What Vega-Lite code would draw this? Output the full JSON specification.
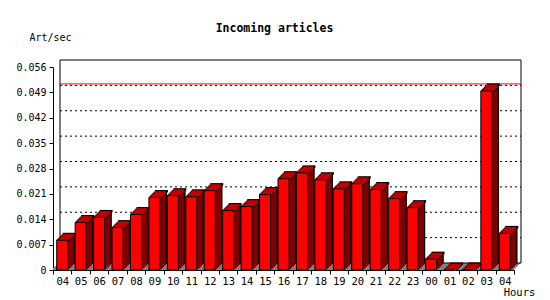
{
  "$schema": "https://vega.github.io/schema/vega-lite/v6.json",
  "autosize": {"type": "none"},
  "width": 461,
  "height": 203,
  "padding": {"left": 53, "top": 67, "right": 36, "bottom": 30},
  "background": "white",
  "title": {"text": "Incoming articles", "font": "DejaVu Sans Mono", "fontSize": 11.5, "fontWeight": "bold", "color": "black", "anchor": "middle", "dx": -9, "dy": 6},
  "config": {"view": {"stroke": null}, "axis": {"labelOverlap": false}},
  "data": {"values": [
    {"slot": "04a", "v": 0.0082}, {"slot": "05", "v": 0.0131}, {"slot": "06", "v": 0.0145},
    {"slot": "07", "v": 0.0117}, {"slot": "08", "v": 0.0153}, {"slot": "09", "v": 0.0200},
    {"slot": "10", "v": 0.0205}, {"slot": "11", "v": 0.0202}, {"slot": "12", "v": 0.0219},
    {"slot": "13", "v": 0.0164}, {"slot": "14", "v": 0.0175}, {"slot": "15", "v": 0.0208},
    {"slot": "16", "v": 0.0252}, {"slot": "17", "v": 0.0268}, {"slot": "18", "v": 0.0249},
    {"slot": "19", "v": 0.0224}, {"slot": "20", "v": 0.0238}, {"slot": "21", "v": 0.0222},
    {"slot": "22", "v": 0.0197}, {"slot": "23", "v": 0.0172}, {"slot": "00", "v": 0.0030},
    {"slot": "01", "v": 0}, {"slot": "02", "v": 0}, {"slot": "03", "v": 0.0494},
    {"slot": "04b", "v": 0.0101}
  ]},
  "layer": [
    {
      "data": {"values": [{}]},
      "encoding": {
        "x": {"value": 0}, "x2": {"value": "width"},
        "y": {"datum": 0, "type": "quantitative"},
        "y2": {"datum": 0}
      },
      "layer": [
        {"mark": {"type": "rect", "color": "#808080", "xOffset": 0, "x2Offset": 0, "yOffset": 0, "y2Offset": -2}},
        {"mark": {"type": "rect", "color": "#808080", "xOffset": 1, "x2Offset": 1, "yOffset": -1, "y2Offset": -3}},
        {"mark": {"type": "rect", "color": "#808080", "xOffset": 2, "x2Offset": 2, "yOffset": -2, "y2Offset": -4}},
        {"mark": {"type": "rect", "color": "#808080", "xOffset": 3, "x2Offset": 3, "yOffset": -3, "y2Offset": -5}},
        {"mark": {"type": "rect", "color": "#808080", "xOffset": 4, "x2Offset": 4, "yOffset": -4, "y2Offset": -6}},
        {"mark": {"type": "rect", "color": "#808080", "xOffset": 5, "x2Offset": 5, "yOffset": -5, "y2Offset": -7}},
        {"mark": {"type": "rect", "color": "#808080", "xOffset": 6, "x2Offset": 6, "yOffset": -6, "y2Offset": -7}},
        {"mark": {"type": "rect", "fill": "white", "fillOpacity": 0, "stroke": "black", "strokeWidth": 1,
                  "xOffset": 7, "x2Offset": 7, "yOffset": -7, "y2Offset": -7},
         "encoding": {"y": {"datum": 0.056, "type": "quantitative"}, "y2": {"datum": 0}}}
      ]
    },
    {
      "data": {"values": [{"g": 0.007}, {"g": 0.014}, {"g": 0.021}, {"g": 0.028}, {"g": 0.035}, {"g": 0.042}, {"g": 0.049}]},
      "mark": {"type": "rule", "color": "black", "strokeWidth": 1, "strokeDash": [2, 3], "xOffset": 7, "x2Offset": 7, "yOffset": -7},
      "encoding": {"x": {"value": 0}, "x2": {"value": "width"}, "y": {"field": "g", "type": "quantitative"}}
    },
    {
      "mark": {"type": "rule", "color": "#FF0000", "strokeWidth": 1, "xOffset": 7, "x2Offset": 7, "yOffset": -7},
      "encoding": {"x": {"value": 0}, "x2": {"value": "width"}, "y": {"aggregate": "max", "field": "v", "type": "quantitative"}}
    },
    {
      "encoding": {
        "x": {"field": "slot", "type": "nominal", "sort": null,
              "scale": {"paddingInner": 0, "paddingOuter": 0},
              "axis": {"labelExpr": "substring(datum.label, 0, 2)", "labelAngle": 0, "tickBand": "extent",
                       "domainColor": "black", "tickColor": "black", "tickSize": 4, "labelPadding": 2,
                       "labelColor": "black", "labelFont": "DejaVu Sans Mono", "labelFontSize": 10.5,
                       "title": "Hours", "titleX": 466, "titleY": 22, "titleAlign": "center", "titleBaseline": "middle",
                       "titleFont": "DejaVu Sans Mono", "titleFontSize": 10.5, "titleFontWeight": "normal", "titleColor": "black"}},
        "y": {"field": "v", "type": "quantitative", "scale": {"domain": [0, 0.056], "nice": false},
              "axis": {"values": [0, 0.007, 0.014, 0.021, 0.028, 0.035, 0.042, 0.049, 0.056],
                       "tickCount": 20,
                       "labelExpr": "datum.value == 0 ? '0' : format(datum.value, '.3f')",
                       "labelOverlap": false,
                       "grid": false, "domainColor": "black", "tickColor": "black", "tickSize": 4,
                       "labelPadding": 3, "labelColor": "black", "labelFont": "DejaVu Sans Mono", "labelFontSize": 10,
                       "title": "Art/sec", "titleAngle": 0, "titleX": -3, "titleY": -30, "titleAlign": "center",
                       "titleBaseline": "middle", "titleFont": "DejaVu Sans Mono", "titleFontSize": 10,
                       "titleFontWeight": "normal", "titleColor": "black"}}
      },
      "layer": [
        {"mark": {"type": "bar", "width": 2, "color": "#800000", "xOffset": 6.5, "yOffset": -1, "y2Offset": -1}, "encoding": {"y2": {"datum": 0}}},
        {"mark": {"type": "bar", "width": 2, "color": "#800000", "xOffset": 7.5, "yOffset": -2, "y2Offset": -2}, "encoding": {"y2": {"datum": 0}}},
        {"mark": {"type": "bar", "width": 2, "color": "#800000", "xOffset": 8.5, "yOffset": -3, "y2Offset": -3}, "encoding": {"y2": {"datum": 0}}},
        {"mark": {"type": "bar", "width": 2, "color": "#800000", "xOffset": 9.5, "yOffset": -4, "y2Offset": -4}, "encoding": {"y2": {"datum": 0}}},
        {"mark": {"type": "bar", "width": 2, "color": "#800000", "xOffset": 10.5, "yOffset": -5, "y2Offset": -5}, "encoding": {"y2": {"datum": 0}}},
        {"mark": {"type": "bar", "width": 2, "color": "#800000", "xOffset": 11.5, "yOffset": -6, "y2Offset": -6}, "encoding": {"y2": {"datum": 0}}},
        {"mark": {"type": "bar", "width": 1.2, "color": "black", "xOffset": 12, "yOffset": -7, "y2Offset": -7}, "encoding": {"y2": {"datum": 0}}},
        {"mark": {"type": "bar", "width": 13, "color": "black", "xOffset": 1, "yOffset": -1, "y2Offset": 1}, "encoding": {"y2": {"field": "v"}}},
        {"mark": {"type": "bar", "width": 13, "color": "black", "xOffset": 2, "yOffset": -2, "y2Offset": 0}, "encoding": {"y2": {"field": "v"}}},
        {"mark": {"type": "bar", "width": 13, "color": "black", "xOffset": 3, "yOffset": -3, "y2Offset": -1}, "encoding": {"y2": {"field": "v"}}},
        {"mark": {"type": "bar", "width": 13, "color": "black", "xOffset": 4, "yOffset": -4, "y2Offset": -2}, "encoding": {"y2": {"field": "v"}}},
        {"mark": {"type": "bar", "width": 13, "color": "black", "xOffset": 5, "yOffset": -5, "y2Offset": -3}, "encoding": {"y2": {"field": "v"}}},
        {"mark": {"type": "bar", "width": 13, "color": "black", "xOffset": 6, "yOffset": -6, "y2Offset": -4}, "encoding": {"y2": {"field": "v"}}},
        {"mark": {"type": "bar", "width": 13, "color": "black", "xOffset": 7, "yOffset": -7.5, "y2Offset": -5}, "encoding": {"y2": {"field": "v"}}},
        {"mark": {"type": "bar", "width": 11, "color": "#C00000", "xOffset": 1, "yOffset": -1, "y2Offset": 1}, "encoding": {"y2": {"field": "v"}}},
        {"mark": {"type": "bar", "width": 11, "color": "#C00000", "xOffset": 2, "yOffset": -2, "y2Offset": 0}, "encoding": {"y2": {"field": "v"}}},
        {"mark": {"type": "bar", "width": 11, "color": "#C00000", "xOffset": 3, "yOffset": -3, "y2Offset": -1}, "encoding": {"y2": {"field": "v"}}},
        {"mark": {"type": "bar", "width": 11, "color": "#C00000", "xOffset": 4, "yOffset": -4, "y2Offset": -2}, "encoding": {"y2": {"field": "v"}}},
        {"mark": {"type": "bar", "width": 11, "color": "#C00000", "xOffset": 5, "yOffset": -5, "y2Offset": -3}, "encoding": {"y2": {"field": "v"}}},
        {"mark": {"type": "bar", "width": 11, "color": "#C00000", "xOffset": 6, "yOffset": -6.4, "y2Offset": -4}, "encoding": {"y2": {"field": "v"}}},
        {"mark": {"type": "bar", "width": 11, "fill": "#FF0000", "stroke": "black", "strokeWidth": 1}, "encoding": {"y2": {"datum": 0}}}
      ]
    }
  ]
}
